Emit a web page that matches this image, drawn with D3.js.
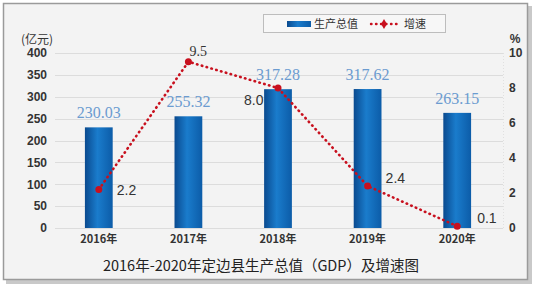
<!DOCTYPE html>
<html>
<head>
<meta charset="utf-8">
<script src="https://cdn.jsdelivr.net/npm/d3@7"></script>
<style>
  body { margin: 0; background: #fff; }
  svg { display: block; }
</style>
</head>
<body>
<div id="chart"></div>
<script>
// data
var years = ['2016年', '2017年', '2018年', '2019年', '2020年'];
var gdp = [230.03, 255.32, 317.28, 317.62, 263.15];
var growth = [2.2, 9.5, 8.0, 2.4, 0.1];
var leftTicks = [0, 50, 100, 150, 200, 250, 300, 350, 400];
var rightTicks = [0, 2, 4, 6, 8, 10];

var W = 535, H = 287;
var svg = d3.select('#chart').append('svg')
    .attr('width', W).attr('height', H);

// frame + shadow
svg.append('rect').attr('x', 6).attr('y', 6).attr('width', 526).attr('height', 278).attr('fill', '#c9c9c9');
svg.append('rect').attr('x', 3.5).attr('y', 3.5).attr('width', 524).attr('height', 276)
    .attr('fill', '#f3f3f3').attr('stroke', '#9a9a9a').attr('stroke-width', 1.5);

var x = d3.scaleBand().domain(years).range([54, 502]).paddingInner(0.69).paddingOuter(0.345);
var yL = d3.scaleLinear().domain([0, 400]).range([228, 53]);
var yR = d3.scaleLinear().domain([0, 10]).range([228, 53]);

// gradient for bars
var defs = svg.append('defs');
var grad = defs.append('linearGradient').attr('id', 'barGrad')
    .attr('x1', '0%').attr('y1', '0%').attr('x2', '100%').attr('y2', '0%');
grad.append('stop').attr('offset', '0%').attr('stop-color', '#0a4a8f');
grad.append('stop').attr('offset', '45%').attr('stop-color', '#1a7ccc');
grad.append('stop').attr('offset', '100%').attr('stop-color', '#0c5ca8');

// grid
svg.append('g').selectAll('line')
    .data(leftTicks)
    .enter().append('line')
    .attr('x1', 55).attr('x2', 503)
    .attr('y1', function (d) { return Math.round(yL(d)) + 0.5; })
    .attr('y2', function (d) { return Math.round(yL(d)) + 0.5; })
    .attr('stroke', '#dcdcdc').attr('stroke-width', 1);

svg.append('line').attr('x1', 503.5).attr('x2', 503.5).attr('y1', 53).attr('y2', 228)
    .attr('stroke', '#e0e0e0').attr('stroke-dasharray', '1,2');

// left axis
var axL = svg.append('g').attr('transform', 'translate(50,0)')
    .call(d3.axisLeft(yL).tickValues(leftTicks).tickSize(0).tickPadding(3));
axL.select('.domain').remove();
axL.selectAll('text').attr('font-family', 'Liberation Sans, Arial, sans-serif')
    .attr('font-size', 12).attr('font-weight', 'bold').attr('fill', '#333');

// right axis
var axR = svg.append('g').attr('transform', 'translate(506,0)')
    .call(d3.axisRight(yR).tickValues(rightTicks).tickSize(0).tickPadding(3));
axR.select('.domain').remove();
axR.selectAll('text').attr('font-family', 'Liberation Sans, Arial, sans-serif')
    .attr('font-size', 12).attr('font-weight', 'bold').attr('fill', '#333');

// x axis labels
var axX = svg.append('g').attr('transform', 'translate(0,228)')
    .call(d3.axisBottom(x).tickSize(0).tickPadding(7));
axX.select('.domain').remove();
axX.selectAll('text').attr('font-family', 'Noto Sans CJK SC, sans-serif')
    .attr('font-size', 11).attr('font-weight', 'bold').attr('fill', '#333');

// unit labels
svg.append('text').attr('x', 37).attr('y', 44).attr('text-anchor', 'middle')
    .attr('font-family', 'Noto Sans CJK SC, sans-serif').attr('font-size', 12).attr('fill', '#333')
    .text('(亿元)');
svg.append('text').attr('x', 515).attr('y', 43).attr('text-anchor', 'middle')
    .attr('font-family', 'Liberation Sans, Arial, sans-serif').attr('font-size', 12).attr('font-weight', 'bold').attr('fill', '#333')
    .text('%');

// bars
svg.append('g').selectAll('rect')
    .data(gdp)
    .enter().append('rect')
    .attr('x', function (d, i) { return x(years[i]); })
    .attr('y', function (d) { return yL(d); })
    .attr('width', x.bandwidth())
    .attr('height', function (d) { return yL(0) - yL(d); })
    .attr('fill', 'url(#barGrad)');

// bar labels
svg.append('g').selectAll('text')
    .data(gdp)
    .enter().append('text')
    .attr('x', function (d, i) { return x(years[i]) + x.bandwidth() / 2; })
    .attr('y', function (d) { return yL(d) - 9; })
    .attr('text-anchor', 'middle')
    .attr('font-family', 'Liberation Serif, Times New Roman, serif')
    .attr('font-size', 16)
    .attr('fill', '#6b9bd0')
    .text(function (d) { return d.toFixed(2); });

// growth line
var line = d3.line()
    .x(function (d, i) { return x(years[i]) + x.bandwidth() / 2; })
    .y(function (d) { return yR(d); });

svg.append('path').datum(growth)
    .attr('d', line)
    .attr('fill', 'none')
    .attr('stroke', '#c8101e').attr('stroke-width', 2.6)
    .attr('stroke-linecap', 'round')
    .attr('stroke-dasharray', '0.5,4.5');

svg.append('g').selectAll('circle')
    .data(growth)
    .enter().append('circle')
    .attr('cx', function (d, i) { return x(years[i]) + x.bandwidth() / 2; })
    .attr('cy', function (d) { return yR(d); })
    .attr('r', 3.5)
    .attr('fill', '#c8101e');

// growth labels (offsets from point)
var labelOffsets = [[18, 5], [1, -6], [-34, 17], [18, -3], [20, -3]];
svg.append('g').selectAll('text')
    .data(growth)
    .enter().append('text')
    .attr('x', function (d, i) { return x(years[i]) + x.bandwidth() / 2 + labelOffsets[i][0]; })
    .attr('y', function (d, i) { return yR(d) + labelOffsets[i][1]; })
    .attr('font-family', function (d, i) { return i === 1 ? 'Liberation Serif, serif' : 'Liberation Sans, Arial, sans-serif'; })
    .attr('font-size', 14)
    .attr('fill', '#333')
    .text(function (d) { return d.toFixed(1); });

// legend
var lg = svg.append('g');
lg.append('rect').attr('x', 263.5).attr('y', 14.5).attr('width', 182).attr('height', 18)
    .attr('fill', '#f7f7f7').attr('stroke', '#bdbdbd');
lg.append('rect').attr('x', 287).attr('y', 21).attr('width', 24).attr('height', 6).attr('fill', 'url(#barGrad)');
lg.append('text').attr('x', 314).attr('y', 28)
    .attr('font-family', 'Noto Sans CJK SC, sans-serif').attr('font-size', 11).attr('fill', '#333')
    .text('生产总值');
lg.append('line').attr('x1', 371).attr('x2', 397).attr('y1', 24).attr('y2', 24)
    .attr('stroke', '#c8101e').attr('stroke-width', 2.4).attr('stroke-linecap', 'round')
    .attr('stroke-dasharray', '0.5,4.5');
lg.append('path').attr('d', d3.symbol().type(d3.symbolDiamond).size(30)())
    .attr('transform', 'translate(384,24)').attr('fill', '#c8101e');
lg.append('text').attr('x', 404).attr('y', 28)
    .attr('font-family', 'Noto Sans CJK SC, sans-serif').attr('font-size', 11).attr('fill', '#333')
    .text('增速');

// title
svg.append('text').attr('x', 261).attr('y', 271).attr('text-anchor', 'middle')
    .attr('font-family', 'Noto Sans CJK SC, sans-serif').attr('font-size', 14.5).attr('fill', '#222')
    .text('2016年-2020年定边县生产总值（GDP）及增速图');
</script>
</body>
</html>
